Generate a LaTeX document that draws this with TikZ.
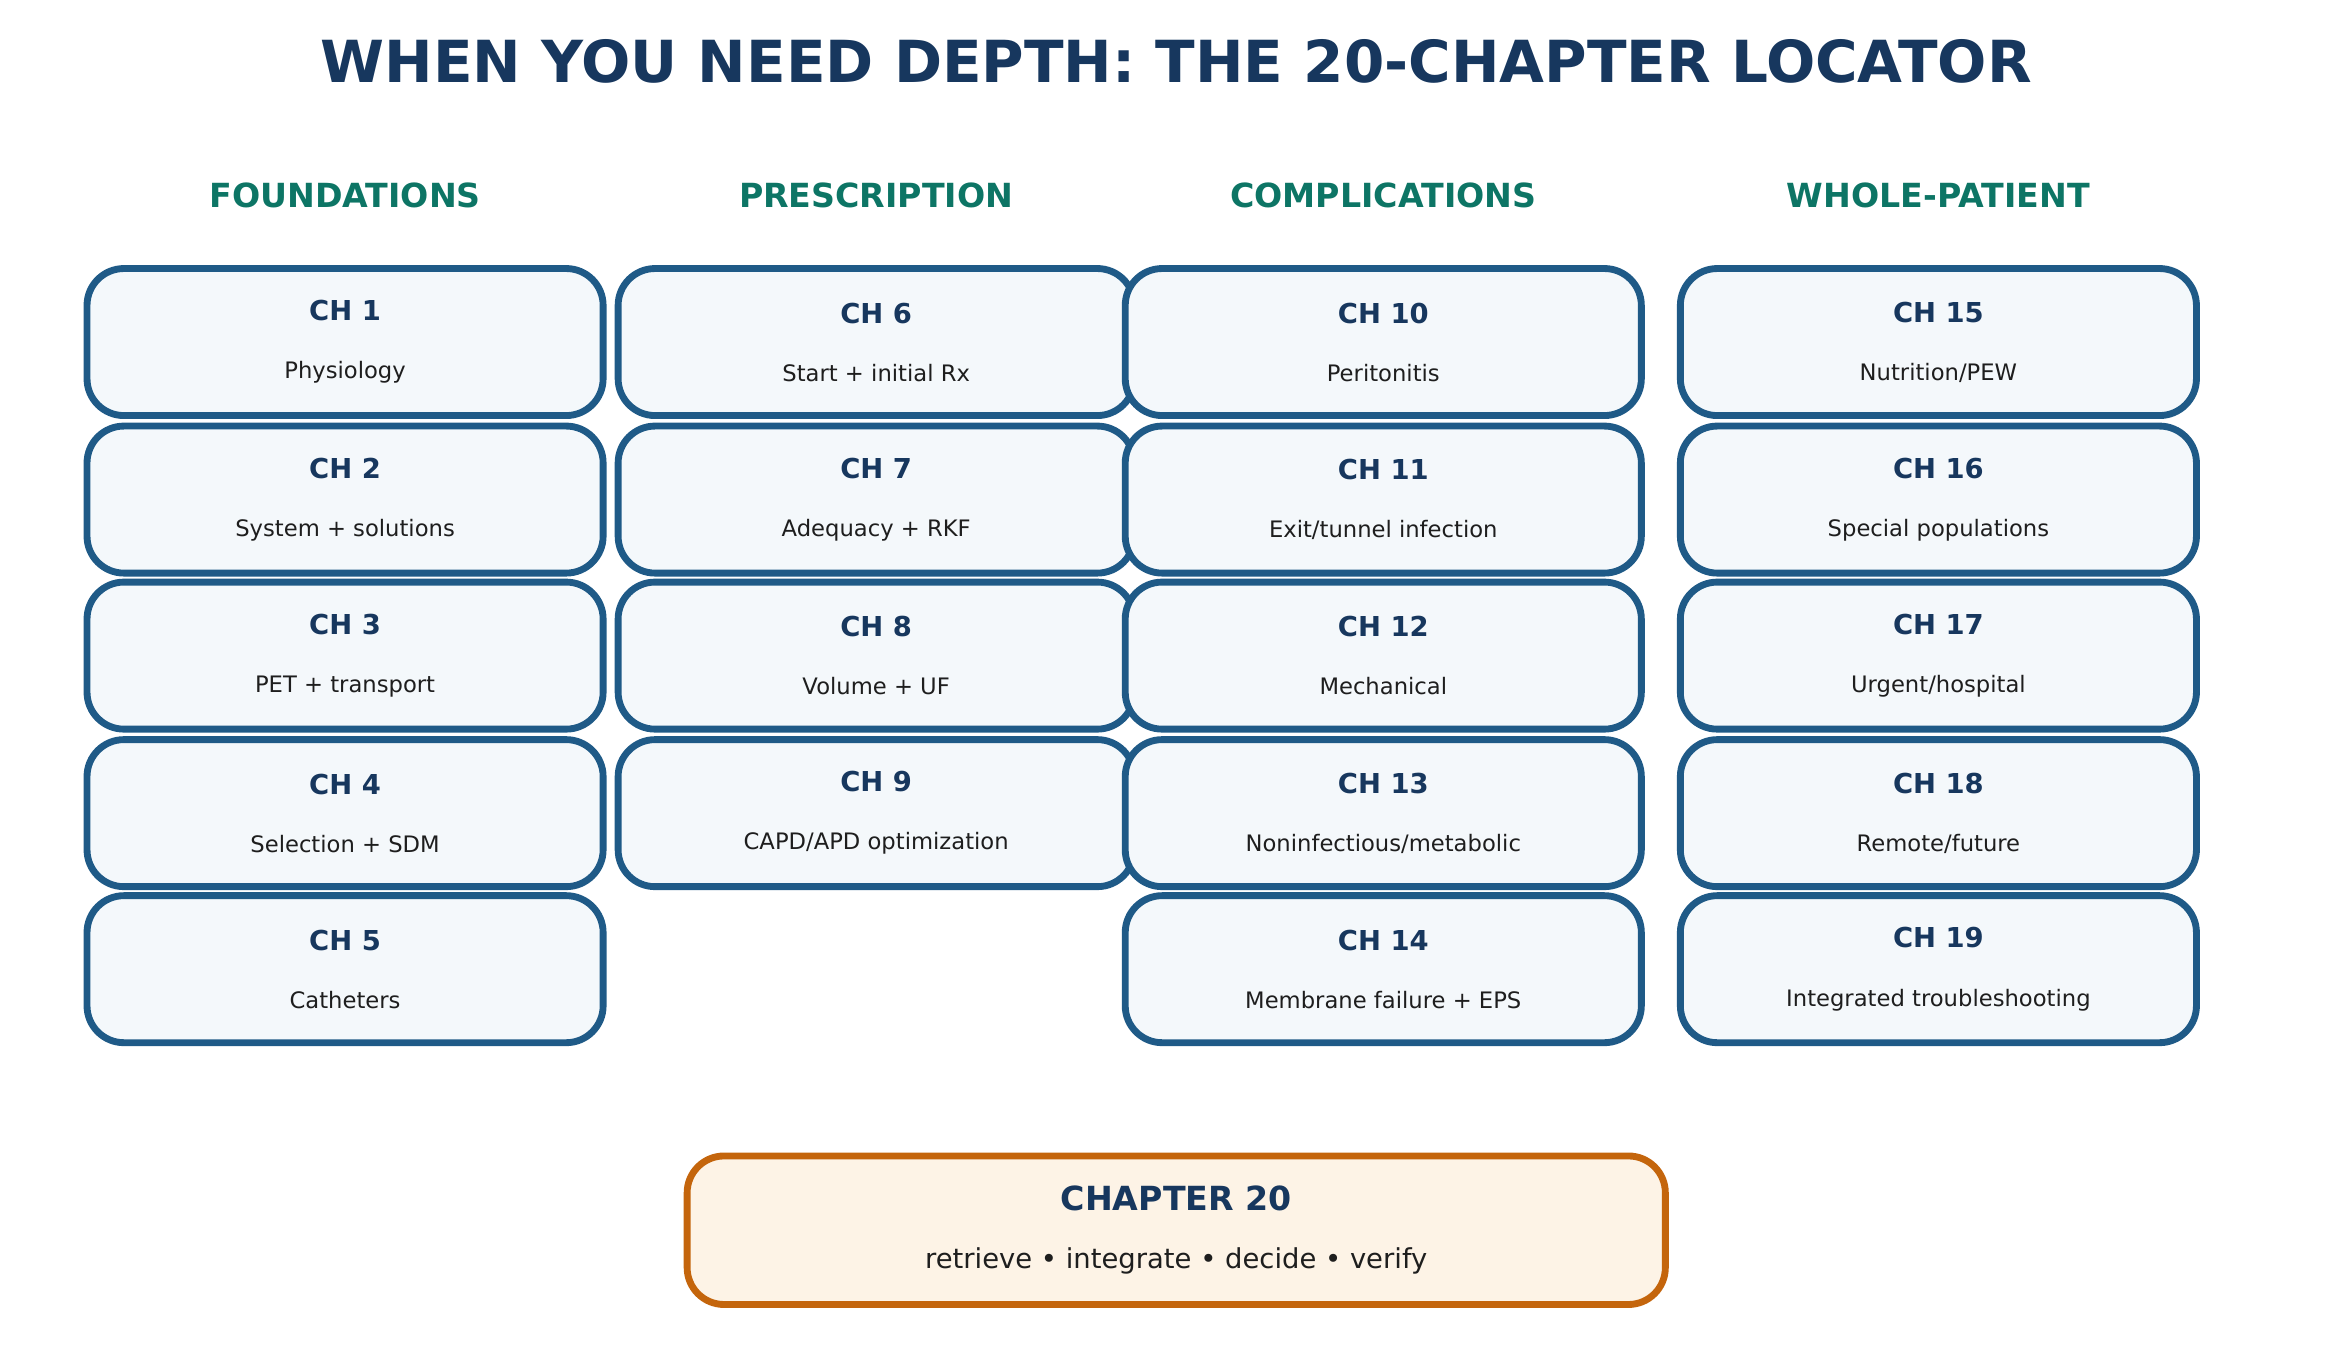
\documentclass[tikz,border=0pt]{standalone}
\usepackage{fontspec}
\setmainfont{DejaVu Sans}
\definecolor{navy}{HTML}{17375E}
\definecolor{edge}{HTML}{1F5A87}
\definecolor{boxfill}{HTML}{F4F8FB}
\definecolor{teal}{HTML}{0D7565}
\definecolor{amber}{HTML}{C4650C}
\definecolor{cream}{HTML}{FDF3E6}
\definecolor{ink}{HTML}{1E1E1E}
\tikzset{
  chap/.style={draw=edge, line width=1.3pt, fill=boxfill, rounded corners=7pt,
    minimum width=3.44cm, minimum height=0.98cm, align=center},
  head/.style={text=teal, font=\bfseries\fontsize{6.3}{7}\selectfont},
}
\newcommand{\chbox}[4]{%
  \node[chap] (#1) at (#2) {{\color{navy}\bfseries\fontsize{5.2}{6}\selectfont #3}\\[-1pt]
    {\color{ink}\fontsize{4.3}{5}\selectfont #4}};}
\begin{document}
\begin{tikzpicture}
  \useasboundingbox (0,0) rectangle (15.63,-8.99);
  \node[text=navy, font=\bfseries\fontsize{11}{13}\selectfont] (title) at (7.84,-0.41)
    {WHEN YOU NEED DEPTH: THE 20-CHAPTER LOCATOR};
  % column heads
  \node[head] (found) at (2.30,-1.30) {FOUNDATIONS};
  \node[head] (presc) at (5.84,-1.30) {PRESCRIPTION};
  \node[head] (compl) at (9.22,-1.30) {COMPLICATIONS};
  \node[head] (whole) at (12.92,-1.30) {WHOLE-PATIENT};
  % foundations
  \chbox{c1}{2.30,-2.28}{CH 1}{Physiology}
  \chbox{c2}{2.30,-3.33}{CH 2}{System + solutions}
  \chbox{c3}{2.30,-4.37}{CH 3}{PET + transport}
  \chbox{c4}{2.30,-5.42}{CH 4}{Selection + SDM}
  \chbox{c5}{2.30,-6.46}{CH 5}{Catheters}
  % prescription
  \chbox{c6}{5.84,-2.28}{CH 6}{Start + initial Rx}
  \chbox{c7}{5.84,-3.33}{CH 7}{Adequacy + RKF}
  \chbox{c8}{5.84,-4.37}{CH 8}{Volume + UF}
  \chbox{c9}{5.84,-5.42}{CH 9}{CAPD/APD optimization}
  % complications
  \chbox{c10}{9.22,-2.28}{CH 10}{Peritonitis}
  \chbox{c11}{9.22,-3.33}{CH 11}{Exit/tunnel infection}
  \chbox{c12}{9.22,-4.37}{CH 12}{Mechanical}
  \chbox{c13}{9.22,-5.42}{CH 13}{Noninfectious/metabolic}
  \chbox{c14}{9.22,-6.46}{CH 14}{Membrane failure + EPS}
  % whole patient
  \chbox{c15}{12.92,-2.28}{CH 15}{Nutrition/PEW}
  \chbox{c16}{12.92,-3.33}{CH 16}{Special populations}
  \chbox{c17}{12.92,-4.37}{CH 17}{Urgent/hospital}
  \chbox{c18}{12.92,-5.42}{CH 18}{Remote/future}
  \chbox{c19}{12.92,-6.46}{CH 19}{Integrated troubleshooting}
  % capstone
  \node[chap, draw=amber, fill=cream, minimum width=6.52cm, minimum height=0.99cm] (c20)
    at (7.84,-8.20) {{\color{navy}\bfseries\fontsize{6.3}{7}\selectfont CHAPTER 20}\\[-1pt]
    {\color{ink}\fontsize{5.2}{6}\selectfont retrieve • integrate • decide • verify}};
\end{tikzpicture}
\end{document}
